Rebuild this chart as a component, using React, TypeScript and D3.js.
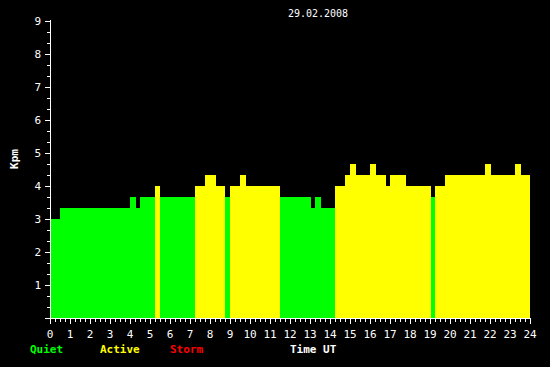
import React from "react";
import * as d3 from "d3";

const title = "29.02.2008";
const segStarts = [0, 0.5, 4.0, 4.3, 4.5, 5.25, 5.5, 7.25, 7.75, 8.3, 8.75, 9.0, 9.5, 9.8, 11.5, 13.05, 13.25, 13.55, 14.25, 14.75, 15.0, 15.3, 16.0, 16.3, 16.8, 17.0, 17.8, 19.05, 19.25, 19.75, 21.75, 22.05, 23.25, 23.55];
const segValues = [3.0, 3.33, 3.67, 3.33, 3.67, 4.0, 3.67, 4.0, 4.33, 4.0, 3.67, 4.0, 4.33, 4.0, 3.67, 3.33, 3.67, 3.33, 4.0, 4.33, 4.67, 4.33, 4.67, 4.33, 4.0, 4.33, 4.0, 3.67, 4.0, 4.33, 4.67, 4.33, 4.67, 4.33];
const endHour = 24;
const xTicks = d3.range(0, 25);
const yTicks = d3.range(1, 10);
const legend = [
  { label: "Quiet", color: "#00ff00" },
  { label: "Active", color: "#ffff00" },
  { label: "Storm", color: "#ff0000" },
];

const W = 550;
const H = 367;

export default function App() {
  const x = d3.scaleLinear().domain([0, 24]).range([50, 530]);
  const y = d3.scaleLinear().domain([0, 9]).range([318, 21]);
  const colorOf = (v: number) => (v < 3.99 ? "#00ff00" : v < 4.99 ? "#ffff00" : "#ff0000");
  const segs = segStarts.map((s, i) => ({
    x0: s,
    x1: i + 1 < segStarts.length ? segStarts[i + 1] : endHour,
    v: segValues[i],
  }));
  const minorX = d3.range(0, 24 * 4 + 1).map((i) => i / 4);
  const minorY = d3.range(0, 27 + 1).map((i) => i / 3);
  const font = "'DejaVu Sans Mono', monospace";
  const legendX = [30, 100, 170];
  return (
    <svg
      width={W}
      height={H}
      style={{ position: "absolute", left: 0, top: 0, background: "#000" }}
      shapeRendering="crispEdges"
    >
      <rect x={0} y={0} width={W} height={H} fill="#000" />
      <text x={318} y={17} fill="#fff" fontFamily={font} fontSize={10} textAnchor="middle">
        {title}
      </text>
      {segs.map((s, i) => (
        <rect
          key={i}
          x={x(s.x0)}
          y={y(s.v)}
          width={x(s.x1) - x(s.x0)}
          height={y(0) - y(s.v)}
          fill={colorOf(s.v)}
        />
      ))}
      <line x1={50.5} x2={50.5} y1={20} y2={318} stroke="#fff" />
      <line x1={50} x2={531} y1={318.5} y2={318.5} stroke="#fff" />
      {minorY.map((v, i) => (
        <line
          key={"my" + i}
          x1={i % 3 === 0 ? 45 : 47}
          x2={50}
          y1={Math.round(y(v)) + 0.5}
          y2={Math.round(y(v)) + 0.5}
          stroke="#fff"
        />
      ))}
      {minorX.map((v, i) => (
        <line
          key={"mx" + i}
          x1={Math.round(x(v)) + 0.5}
          x2={Math.round(x(v)) + 0.5}
          y1={319}
          y2={i % 4 === 0 ? 324 : 322}
          stroke="#fff"
        />
      ))}
      {yTicks.map((v) => (
        <text
          key={"yl" + v}
          x={41}
          y={y(v) + 4}
          fill="#fff"
          fontFamily={font}
          fontSize={11}
          textAnchor="end"
        >
          {v}
        </text>
      ))}
      {xTicks.map((v) => (
        <text
          key={"xl" + v}
          x={x(v)}
          y={338}
          fill="#fff"
          fontFamily={font}
          fontSize={11}
          textAnchor="middle"
        >
          {v}
        </text>
      ))}
      <text
        transform="translate(18,159) rotate(-90)"
        fill="#fff"
        fontFamily={font}
        fontSize={11}
        fontWeight="bold"
        textAnchor="middle"
      >
        Kpm
      </text>
      {legend.map((l, i) => (
        <text
          key={l.label}
          x={legendX[i]}
          y={353}
          fill={l.color}
          fontFamily={font}
          fontSize={11}
          fontWeight="bold"
        >
          {l.label}
        </text>
      ))}
      <text x={290} y={353} fill="#fff" fontFamily={font} fontSize={11} fontWeight="bold">
        Time UT
      </text>
    </svg>
  );
}
